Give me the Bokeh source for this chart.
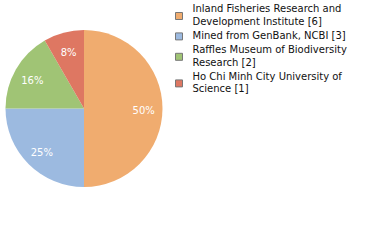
import math
from bokeh.plotting import figure
from bokeh.models import Range1d, ColumnDataSource
from bokeh.core.properties import value
from bokeh.embed import file_html
from bokeh.resources import INLINE

# ---- data ----
institutions = [
    "Inland Fisheries Research and Development Institute",
    "Mined from GenBank, NCBI",
    "Raffles Museum of Biodiversity Research",
    "Ho Chi Minh City University of Science",
]
counts = [6, 3, 2, 1]
legend_lines = [
    ["Inland Fisheries Research and", "Development Institute [6]"],
    ["Mined from GenBank, NCBI [3]"],
    ["Raffles Museum of Biodiversity", "Research [2]"],
    ["Ho Chi Minh City University of", "Science [1]"],
]
colors = ["#F0AC6F", "#9CBAE0", "#A0C475", "#DE7762"]

# ---- layout (screen px -> data units) ----
W, H = 364, 224
def sx(X):
    return X
def sy(Y):
    return H - Y

FONT = "DejaVu Sans"

p = figure(width=W, height=H, x_range=Range1d(0, W), y_range=Range1d(0, H),
           output_backend="svg", toolbar_location=None, min_border=0)
p.axis.visible = False
p.grid.visible = False
p.outline_line_color = None
p.background_fill_color = "white"

cx, cy, r = sx(83.5), sy(108), 78.5
total = sum(counts)
starts, ends, mids = [], [], []
cum = 0
for c in counts:
    a0 = math.pi / 2 - 2 * math.pi * (cum + c) / total
    a1 = math.pi / 2 - 2 * math.pi * cum / total
    starts.append(a0)
    ends.append(a1)
    mids.append((a0 + a1) / 2)
    cum += c

src = ColumnDataSource(dict(start=starts, end=ends, color=colors))
p.wedge(x=cx, y=cy, radius=r, start_angle="start", end_angle="end",
        fill_color="color", line_color=None, source=src)

labels = [f"{math.floor(100 * c / total)}%" for c in counts]
lr = 0.76 * r
lsrc = ColumnDataSource(dict(
    x=[cx + lr * math.cos(m) for m in mids],
    y=[cy - 1.5 + lr * math.sin(m) for m in mids],
    t=labels))
p.text(x="x", y="y", text="t", source=lsrc, text_color="white",
       text_font=value(FONT), text_font_size="10px",
       text_align="center", text_baseline="middle")

# ---- legend ----
line_h = 12.4
item_gap = 14.2
base = 13.3
tx, ty, tt = [], [], []
sqx, sqy, sqc = [], [], []
for lines, col in zip(legend_lines, colors):
    first = base
    for j, ln in enumerate(lines):
        tx.append(sx(192))
        ty.append(sy(base - 5))
        tt.append(ln)
        if j < len(lines) - 1:
            base += line_h
    last = base
    mid_block = (first - 8 + last + 1) / 2
    sqx.append(sx(178.5))
    sqy.append(sy(mid_block - 0.5))
    sqc.append(col)
    base += item_gap

p.rect(x=sqx, y=sqy, width=7, height=7, fill_color=sqc, line_color="#777777", line_width=1)
p.text(x=tx, y=ty, text=tt, text_color="#111111", text_font=value(FONT),
       text_font_size="10px", text_align="left", text_baseline="alphabetic")

open("out.html", "w").write(file_html(p, INLINE))
